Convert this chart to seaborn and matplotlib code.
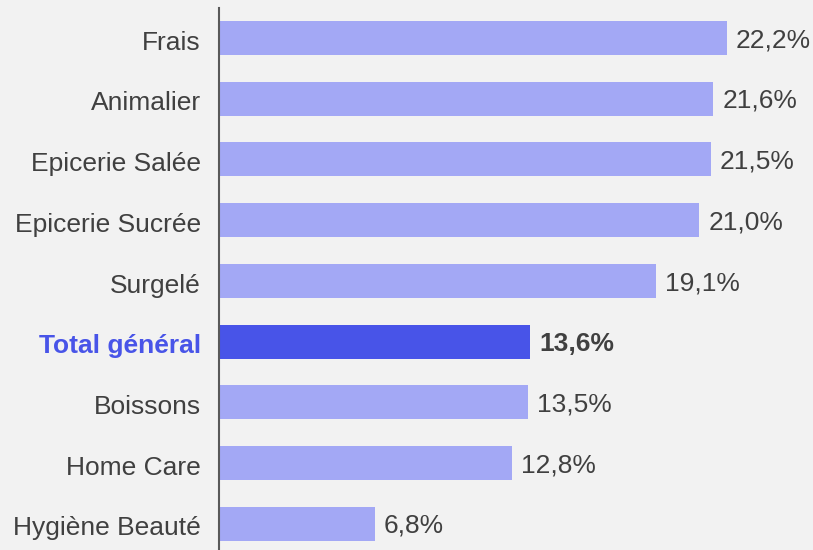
import matplotlib
matplotlib.use("Agg")
import matplotlib.pyplot as plt
import matplotlib.transforms as mtransforms
import seaborn as sns
import pandas as pd

categories = ["Frais", "Animalier", "Epicerie Salée", "Epicerie Sucrée", "Surgelé",
              "Total général", "Boissons", "Home Care", "Hygiène Beauté"]
values = [22.2, 21.6, 21.5, 21.0, 19.1, 13.6, 13.5, 12.8, 6.8]
highlight = "Total général"

LIGHT = "#A3A8F5"
DARK = "#4854E8"
TEXT = "#404040"
BG = "#F2F2F2"

sns.set_theme(style="white")
plt.rcParams["font.family"] = ["Liberation Sans", "DejaVu Sans"]

df = pd.DataFrame({"cat": categories, "val": values})
df["grp"] = ["hi" if c == highlight else "lo" for c in categories]

fig = plt.figure(figsize=(8.13, 5.5), dpi=100, facecolor=BG)
ax = fig.add_axes([219 / 813, 0, 594 / 813, 542 / 550])
ax.set_facecolor(BG)

sns.barplot(data=df, x="val", y="cat", hue="grp", palette={"hi": DARK, "lo": LIGHT},
            order=categories, dodge=False, width=0.56, legend=False, ax=ax,
            saturation=1, linewidth=0)

ax.set_xlim(0, 594 / 22.88)
ax.set_ylim(8.43, -0.494)

FS = 19
for i, (c, v) in enumerate(zip(categories, values)):
    bold = c == highlight
    ax.annotate(f"{v:.1f}%".replace(".", ","), xy=(v, i), xytext=(6.5, -1.5),
                textcoords="offset points", va="center", ha="left",
                fontsize=FS, color=TEXT, fontweight="bold" if bold else "normal")

ax.set_xlabel("")
ax.set_ylabel("")
ax.set_xticks([])
ax.tick_params(axis="y", length=0, pad=13, labelsize=FS, labelcolor=TEXT)
offset = mtransforms.ScaledTranslation(0, -1.5 / 72, fig.dpi_scale_trans)
for lab in ax.get_yticklabels():
    lab.set_transform(lab.get_transform() + offset)
    if lab.get_text() == highlight:
        lab.set_color(DARK)
        lab.set_fontweight("bold")

for s in ["top", "right", "bottom"]:
    ax.spines[s].set_visible(False)
ax.spines["left"].set_color("#595959")
ax.spines["left"].set_linewidth(1.5)

fig.savefig("out.png", dpi=100, facecolor=BG)
